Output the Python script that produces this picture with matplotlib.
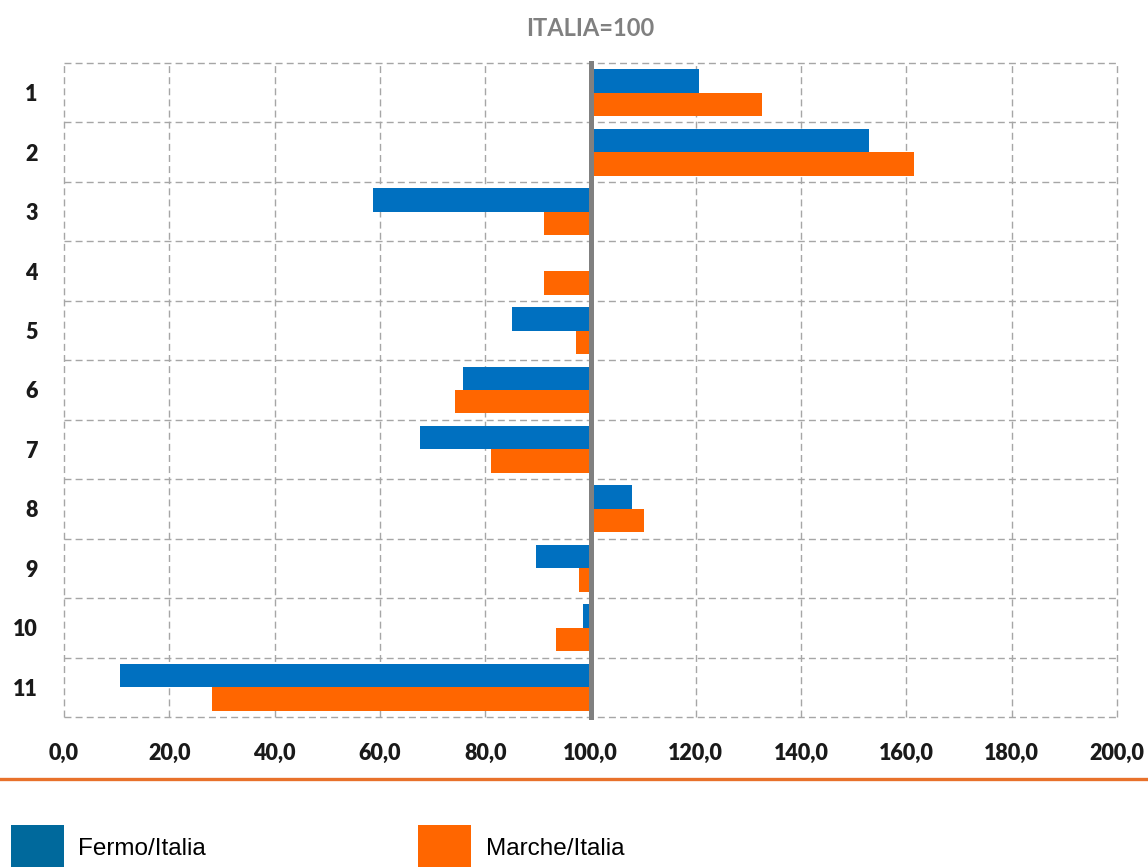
import matplotlib
matplotlib.use("Agg")
import matplotlib.pyplot as plt
from matplotlib.patches import Rectangle
from matplotlib.lines import Line2D
import numpy as np

categories = ["1", "2", "3", "4", "5", "6", "7", "8", "9", "10", "11"]
fermo = [120.6, 152.9, 58.7, 100.0, 85.1, 75.8, 67.6, 107.9, 89.6, 98.6, 10.6]
marche = [132.6, 161.4, 91.2, 91.2, 97.2, 74.3, 81.1, 110.2, 97.9, 93.4, 28.2]
xticks = [0, 20, 40, 60, 80, 100, 120, 140, 160, 180, 200]
xticklabels = ["0,0", "20,0", "40,0", "60,0", "80,0", "100,0", "120,0", "140,0", "160,0", "180,0", "200,0"]
base = 100.0
title = "ITALIA=100"
legend_labels = ["Fermo/Italia", "Marche/Italia"]

BLUE = "#0070C0"
ORANGE = "#FF6600"
LEG_BLUE = "#00699C"
GRID = "#A6A6A6"

W, H = 1148, 867
fig = plt.figure(figsize=(W / 100, H / 100), dpi=100)
ax = fig.add_axes([64 / W, 1 - 717 / H, (1117 - 64) / W, (717 - 63) / H])

y = np.arange(len(categories))
h = 0.395
ax.barh(y - h / 2, np.array(fermo) - base, left=base, height=h, color=BLUE, zorder=2)
ax.barh(y + h / 2, np.array(marche) - base, left=base, height=h, color=ORANGE, zorder=2)

ax.set_xlim(0, 200)
ax.set_ylim(len(categories) - 0.5, -0.5)

for s in ax.spines.values():
    s.set_visible(False)

# dashed grid (vertical at ticks, horizontal at category boundaries)
for xv in xticks:
    ax.axvline(xv, color=GRID, lw=1.0, ls=(0, (5, 3)), zorder=1, clip_on=False)
for b in np.arange(-0.5, len(categories), 1.0):
    ax.axhline(b, color=GRID, lw=1.0, ls=(0, (5, 3)), zorder=1, clip_on=False)

# base line at 100
ax.axvline(base, color="#808080", lw=3.6, zorder=3, clip_on=False)

ax.set_xticks(xticks)
ax.set_xticklabels(xticklabels)
ax.set_yticks(y)
ax.set_yticklabels(categories)
ax.tick_params(axis="both", length=0)
ax.tick_params(axis="x", pad=19)
ax.tick_params(axis="y", pad=19)
for lab in ax.get_xticklabels() + ax.get_yticklabels():
    lab.set_fontfamily(["Lato", "DejaVu Sans"])
    lab.set_fontweight("heavy")
    lab.set_fontsize(15.5)
    lab.set_color("#1A1A1A")

fig.text(590 / W, 1 - 29 / H, title, ha="center", va="center",
         fontsize=17, fontweight="bold", color="#808080", family=["Lato", "DejaVu Sans"])

# orange separator line
fig.add_artist(Line2D([0, 1], [1 - 778.5 / H, 1 - 778.5 / H], color="#E8712B", lw=2.4,
                      transform=fig.transFigure))

# legend
fig.add_artist(Rectangle((11 / W, 0), 53 / W, 42 / H, transform=fig.transFigure,
                         color=LEG_BLUE, lw=0))
fig.add_artist(Rectangle((418 / W, 0), 53 / W, 42 / H, transform=fig.transFigure,
                         color=ORANGE, lw=0))
fig.text(78 / W, 1 - 849 / H, legend_labels[0], ha="left", va="center", fontsize=17.5,
         family=["Liberation Sans", "DejaVu Sans"], color="black")
fig.text(486 / W, 1 - 849 / H, legend_labels[1], ha="left", va="center", fontsize=17.5,
         family=["Liberation Sans", "DejaVu Sans"], color="black")

fig.savefig("out.png", dpi=100)
